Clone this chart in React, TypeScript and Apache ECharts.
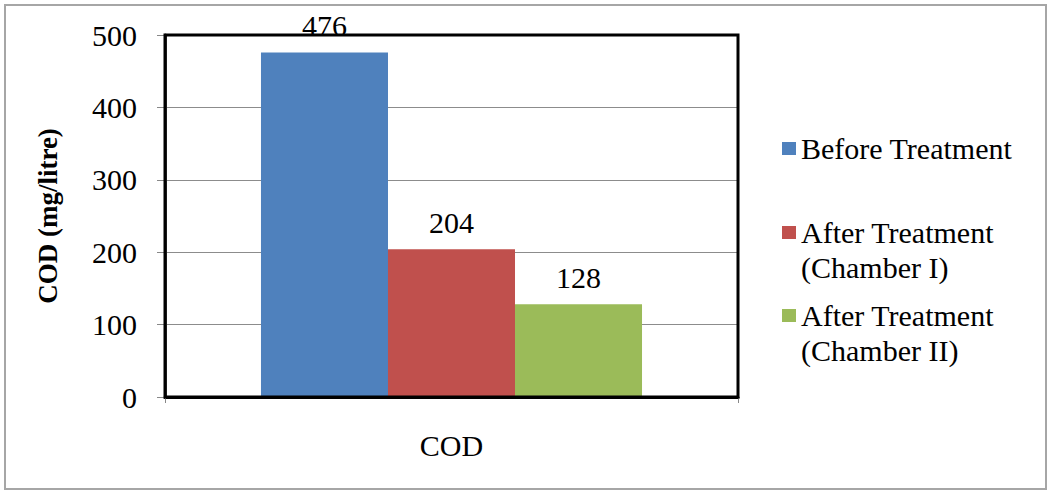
import React, { useEffect, useRef } from "react";
import * as echarts from "echarts";

const categories = ["COD"];
const seriesNames = [
  "Before Treatment",
  "After Treatment (Chamber I)",
  "After Treatment (Chamber II)",
];
const beforeTreatment = [476];
const afterChamberI = [204];
const afterChamberII = [128];
const colors = ["#4F81BD", "#C0504D", "#9BBB59"];
const yTicks = { min: 0, max: 500, interval: 100 };

const FONT = "'Liberation Serif', 'Times New Roman', serif";

export default function App() {
  const ref = useRef<HTMLDivElement>(null);
  useEffect(() => {
    if (!ref.current) return;
    const chart = echarts.init(ref.current, null, { renderer: "svg" });
    const values = [beforeTreatment, afterChamberI, afterChamberII];
    const tallIcon =
      "path://M0,0L14,0L14,0.01Z M0,11H14V24H0Z M0,70L14,70L14,69.99Z";
    const legendText = {
      fontFamily: FONT,
      fontSize: 30,
      lineHeight: 35,
      color: "#000",
    };
    const mkLegend = (i: number, top: number, tall: boolean) => ({
      orient: "vertical",
      left: 782,
      top,
      padding: 0,
      itemWidth: 14,
      itemHeight: tall ? 70 : 13,
      icon: tall ? tallIcon : "rect",
      selectedMode: false,
      data: [seriesNames[i]],
      formatter: (n: string) => n.replace(" (", "\n("),
      textStyle: legendText,
    });
    chart.setOption({
      animation: false,
      backgroundColor: "#fff",
      textStyle: { fontFamily: FONT },
      graphic: [
        {
          type: "rect",
          shape: { x: 5, y: 5, width: 1041, height: 484 },
          style: { fill: "none", stroke: "#a6a6a6", lineWidth: 2 },
          silent: true,
        },
      ],
      legend: [
        mkLegend(0, 131, false),
        mkLegend(1, 215, true),
        mkLegend(2, 298, true),
      ],
      grid: {
        left: 165,
        right: 313,
        top: 35,
        bottom: 97,
        show: true,
        z: 10,
        backgroundColor: "transparent",
        borderColor: "#000",
        borderWidth: 3,
      },
      xAxis: {
        type: "category",
        data: categories,
        axisLine: { lineStyle: { color: "#000", width: 3 } },
        axisTick: { show: true, length: 6, lineStyle: { color: "#888" } },
        axisLabel: {
          fontFamily: FONT,
          fontSize: 30,
          lineHeight: 30,
          color: "#000",
          margin: 33,
        },
      },
      yAxis: {
        type: "value",
        min: yTicks.min,
        max: yTicks.max,
        interval: yTicks.interval,
        name: "COD (mg/litre)",
        nameLocation: "middle",
        nameGap: 104,
        nameTextStyle: {
          fontFamily: FONT,
          fontSize: 27,
          fontWeight: "bold",
          color: "#000",
        },
        axisLine: { show: true, lineStyle: { color: "#333", width: 3 } },
        axisTick: { show: true, length: 8, lineStyle: { color: "#888" } },
        axisLabel: {
          fontFamily: FONT,
          fontSize: 30,
          color: "#000",
          margin: 28,
        },
        splitLine: { lineStyle: { color: "#8c8c8c", width: 1 } },
      },
      series: seriesNames.map((name, i) => ({
        name,
        type: "bar",
        data: values[i],
        barGap: "0%",
        barCategoryGap: "33.5%",
        itemStyle: { color: colors[i] },
        label: {
          show: true,
          position: "top",
          distance: 12,
          fontFamily: FONT,
          fontSize: 30,
          lineHeight: 30,
          color: "#000",
        },
      })),
    });
    return () => chart.dispose();
  }, []);
  return (
    <div
      ref={ref}
      style={{ position: "fixed", left: 0, top: 0, width: 1051, height: 494 }}
    />
  );
}
